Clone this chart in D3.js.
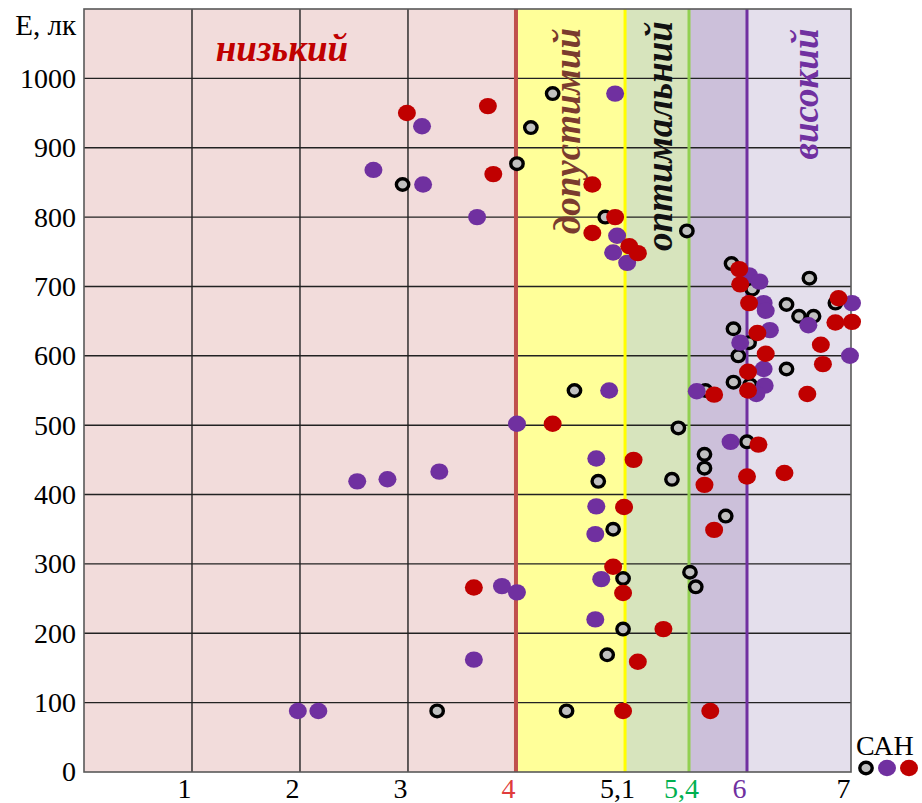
<!DOCTYPE html>
<html><head><meta charset="utf-8">
<script src="https://cdn.jsdelivr.net/npm/d3@7"></script>
<style>
body{margin:0;background:#fff}
svg{display:block;font-family:"Liberation Serif","DejaVu Serif",serif}
</style>
</head><body>
<svg id="chart" width="922" height="803"></svg>
<script>
// ---------------- DATA ----------------
// pH zone boundaries and names
const zoneEdges = [0, 4, 5.1, 5.4, 6, 7];
const zoneNames = ["низький", "допустимий", "оптимальний", "", "високий"];
const boundaryValues = [4, 5.1, 5.4, 6];

// axis ticks
const yTickValues = [0, 100, 200, 300, 400, 500, 600, 700, 800, 900, 1000];
const xTickValues = [1, 2, 3, 4, 5.1, 5.4, 6, 7];
const xTickLabels = ["1", "2", "3", "4", "5,1", "5,4", "6", "7"];
const yAxisTitle = "E, лк";
const legendTitle = "САН";

// series: [pH, E (lx)]
const seriesGrey = [
  [2.95, 847], [3.27, 88], [4.01, 877], [4.15, 929], [4.37, 978], [4.59, 550],
  [4.51, 88], [4.90, 800], [4.83, 419], [4.98, 350], [5.08, 279], [5.08, 206],
  [4.92, 169], [5.39, 780], [5.35, 496], [5.32, 422], [5.41, 288], [5.47, 267],
  [5.56, 458], [5.56, 438], [5.57, 550], [5.78, 369], [5.84, 733], [5.86, 639],
  [5.91, 600], [5.86, 562], [6.00, 476], [6.05, 696], [6.02, 619], [6.03, 558],
  [6.38, 674], [6.50, 657], [6.64, 657], [6.60, 712], [6.85, 676], [6.38, 581]
];
const seriesPurple = [
  [1.98, 88], [2.17, 88], [2.53, 419], [2.81, 422], [3.29, 433], [2.68, 868],
  [3.13, 931], [3.14, 847], [3.64, 800], [3.61, 162], [3.87, 268], [4.01, 259],
  [4.01, 502], [5.00, 978], [5.02, 773], [4.98, 749], [5.11, 734], [4.94, 550],
  [4.81, 452], [4.81, 383], [4.80, 343], [4.86, 278], [4.80, 220], [5.48, 549],
  [5.83, 476], [6.02, 716], [6.12, 707], [6.16, 676], [6.18, 665], [6.22, 637],
  [5.93, 619], [6.16, 581], [6.17, 557], [6.09, 545], [6.59, 644], [7.01, 676],
  [6.99, 600]
];
const seriesRed = [
  [2.99, 950], [3.74, 960], [3.79, 862], [3.61, 266], [4.37, 502], [4.77, 847],
  [5.00, 800], [4.77, 777], [5.12, 758], [5.16, 748], [5.14, 450], [5.09, 382],
  [4.98, 296], [5.08, 258], [5.28, 206], [5.16, 159], [5.08, 88], [5.62, 88],
  [5.56, 414], [5.66, 349], [5.66, 544], [5.92, 725], [5.93, 703], [6.02, 676],
  [6.10, 633], [6.18, 603], [6.01, 577], [6.01, 550], [6.11, 472], [6.00, 426],
  [6.36, 431], [6.58, 545], [6.71, 616], [6.73, 588], [6.85, 648], [7.01, 649],
  [6.88, 683]
];

// ---------------- LAYOUT / STYLE ----------------
const plot = {left: 84, top: 9, right: 851, bottom: 772};
// horizontal position of each zone edge as a share of the plot width
const zoneEdgeShare = [0, 0.5632, 0.7054, 0.7888, 0.8644, 1];
const zoneFill = ["#F2DCDB", "#FFFF99", "#D7E4BD", "#CCC0DA", "#E4DFEC"];
const boundaryColor = ["#C0504D", "#FFFF00", "#92D050", "#7030A0"];
const boundaryWidth = [4, 3, 3, 3];
const xTickColor = ["#000", "#000", "#000", "#E03C3C", "#000", "#00B050", "#7030A0", "#000"];
const purple = "#7030A0", red = "#C00000";
const ring = {rx: 6.2, ry: 5.8, sw: 3.4};
const dot = {rx: 9, ry: 8.2};

const svg = d3.select("#chart");
const pw = plot.right - plot.left;

const x = d3.scaleLinear()
  .domain(zoneEdges)
  .range(zoneEdgeShare.map(s => plot.left + s * pw));
const y = d3.scaleLinear().domain([0, 1100]).range([plot.bottom, plot.top]);

// zone bands
const zones = d3.range(zoneEdges.length - 1).map(i => ({a: zoneEdges[i], b: zoneEdges[i + 1], i}));
svg.append("g").selectAll("rect").data(zones).join("rect")
  .attr("x", d => x(d.a)).attr("y", plot.top)
  .attr("width", d => x(d.b) - x(d.a)).attr("height", plot.bottom - plot.top)
  .attr("fill", d => zoneFill[d.i]);

// grid lines
const grid = svg.append("g").attr("stroke", "#222").attr("stroke-width", 1.4);
grid.selectAll("line.h").data(yTickValues.filter(v => v > 0)).join("line")
  .attr("class", "h")
  .attr("x1", plot.left).attr("x2", plot.right)
  .attr("y1", d => y(d)).attr("y2", d => y(d));
grid.selectAll("line.v").data([1, 2, 3]).join("line")
  .attr("class", "v")
  .attr("x1", d => x(d)).attr("x2", d => x(d))
  .attr("y1", plot.top).attr("y2", plot.bottom);

// zone boundary lines
svg.append("g").selectAll("line").data(boundaryValues).join("line")
  .attr("x1", d => x(d)).attr("x2", d => x(d))
  .attr("y1", plot.top).attr("y2", plot.bottom)
  .attr("stroke", (d, i) => boundaryColor[i])
  .attr("stroke-width", (d, i) => boundaryWidth[i]);

// frame
svg.append("rect")
  .attr("x", plot.left).attr("y", plot.top)
  .attr("width", pw).attr("height", plot.bottom - plot.top)
  .attr("fill", "none").attr("stroke", "#595959").attr("stroke-width", 1.6);

// zone labels
const labelSize = 37;
svg.append("text")
  .attr("x", 282).attr("y", 61)
  .attr("text-anchor", "middle")
  .attr("font-size", labelSize).attr("font-weight", "bold").attr("font-style", "italic")
  .attr("fill", "#C00000")
  .text(zoneNames[0]);
const vLabels = [
  {name: zoneNames[1], cx: x(4.52), cy: 131, color: "#7A3B2E"},
  {name: zoneNames[2], cx: x(5.26), cy: 136, color: "#111"},
  {name: zoneNames[4], cx: x(6.56), cy: 94, color: "#7030A0"}
];
svg.append("g").selectAll("text").data(vLabels).join("text")
  .attr("transform", d => `translate(${d.cx},${d.cy}) rotate(-90)`)
  .attr("text-anchor", "middle").attr("dominant-baseline", "central")
  .attr("font-size", labelSize).attr("font-weight", "bold").attr("font-style", "italic")
  .attr("fill", d => d.color)
  .text(d => d.name);

// axes
const yAxis = d3.axisLeft(y).tickValues(yTickValues).tickSize(0).tickPadding(0).tickFormat(d3.format("d"));
const gy = svg.append("g").attr("transform", `translate(${plot.left - 8},0)`).call(yAxis);
gy.select(".domain").remove();
gy.selectAll("text").attr("font-size", 28).attr("font-family", "Liberation Serif, serif").attr("fill", "#000");

const xAxis = d3.axisBottom(x).tickValues(xTickValues).tickSize(0).tickPadding(0)
  .tickFormat((d, i) => xTickLabels[i]);
const gx = svg.append("g").attr("transform", `translate(0,${plot.bottom + 5})`).call(xAxis);
gx.select(".domain").remove();
gx.selectAll("text")
  .attr("font-size", 28).attr("font-family", "Liberation Serif, serif")
  .attr("dx", -8).attr("dy", "0.75em")
  .attr("fill", (d, i) => xTickColor[i]);

svg.append("text")
  .attr("x", 76).attr("y", 35)
  .attr("text-anchor", "end")
  .attr("font-size", 29)
  .text(yAxisTitle);

// points
const pts = svg.append("g");
pts.selectAll("ellipse.g").data(seriesGrey).join("ellipse")
  .attr("class", "g")
  .attr("cx", d => x(d[0])).attr("cy", d => y(d[1]))
  .attr("rx", ring.rx).attr("ry", ring.ry)
  .attr("fill", "#C0C0C0").attr("stroke", "#000").attr("stroke-width", ring.sw);
pts.selectAll("ellipse.p").data(seriesPurple).join("ellipse")
  .attr("class", "p")
  .attr("cx", d => x(d[0])).attr("cy", d => y(d[1]))
  .attr("rx", dot.rx).attr("ry", dot.ry).attr("fill", purple);
pts.selectAll("ellipse.r").data(seriesRed).join("ellipse")
  .attr("class", "r")
  .attr("cx", d => x(d[0])).attr("cy", d => y(d[1]))
  .attr("rx", dot.rx).attr("ry", dot.ry).attr("fill", red);

// legend
const lg = svg.append("g");
lg.append("text").attr("x", 856).attr("y", 755).attr("font-size", 28).text(legendTitle);
lg.append("ellipse").attr("cx", 866).attr("cy", 768).attr("rx", ring.rx).attr("ry", ring.ry)
  .attr("fill", "#C0C0C0").attr("stroke", "#000").attr("stroke-width", ring.sw);
lg.append("ellipse").attr("cx", 887).attr("cy", 768).attr("rx", dot.rx).attr("ry", dot.ry).attr("fill", purple);
lg.append("ellipse").attr("cx", 909).attr("cy", 768).attr("rx", dot.rx).attr("ry", dot.ry).attr("fill", red);
</script>
</body></html>
